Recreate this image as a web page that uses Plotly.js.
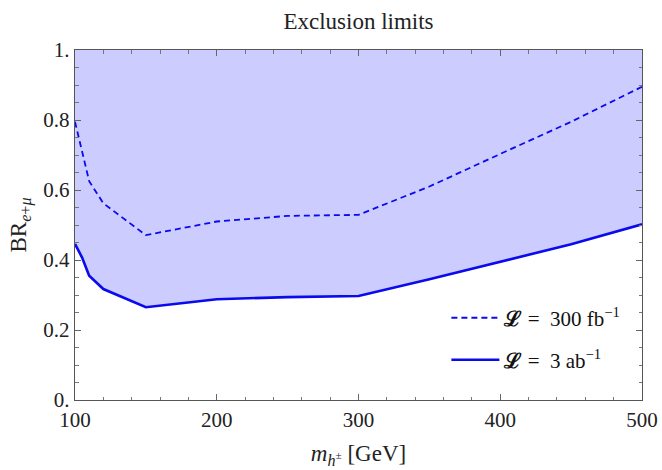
<!DOCTYPE html>
<html>
<head>
<meta charset="utf-8">
<script src="https://cdn.plot.ly/plotly-3.0.1.min.js"></script>
<style>html,body{margin:0;padding:0;background:#fff;}#chart{width:662px;height:470px;}</style>
</head>
<body>
<div id="chart"></div>
<script>
// Data
var massDashed = [100, 105, 110, 120, 150, 200, 250, 300, 350, 400, 450, 500];
var br300fb   = [0.795, 0.712, 0.625, 0.562, 0.471, 0.510, 0.526, 0.529, 0.610, 0.703, 0.795, 0.895];
var massSolid = [100, 105, 110, 120, 150, 200, 250, 300, 350, 400, 450, 500];
var br3ab     = [0.446, 0.407, 0.355, 0.317, 0.265, 0.288, 0.294, 0.297, 0.345, 0.395, 0.445, 0.502];
var topLimit  = [1, 1, 1, 1, 1, 1, 1, 1, 1, 1, 1, 1];
var yTickVals = [0, 0.2, 0.4, 0.6, 0.8, 1];
var yTickText = ["0.", "0.2", "0.4", "0.6", "0.8", "1."];
var xTickVals = [100, 200, 300, 400, 500];
var xTickText = ["100", "200", "300", "400", "500"];
var label300 = "<b>ℒ</b> =  300 fb<sup>−1</sup>";
var label3ab = "<b>ℒ</b> =  3 ab<sup>−1</sup>";

var font = "Liberation Serif, DejaVu Serif, serif";
var traces = [
  {x: massSolid, y: br3ab, mode: 'lines',
   line: {color: '#0a0aee', width: 2.6}, name: label3ab, legend: 'legend2'},
  {x: massSolid, y: topLimit, mode: 'lines', fill: 'tonexty', fillcolor: '#ccccfe',
   line: {width: 0, color: 'rgba(0,0,0,0)'}, showlegend: false, hoverinfo: 'skip'},
  {x: massDashed, y: br300fb, mode: 'lines',
   line: {color: '#0a0aee', width: 1.8, dash: '6px,4px'}, name: label300, legend: 'legend'}
];

var axisCommon = {
  showgrid: false, zeroline: false, showline: true, linecolor: '#555', linewidth: 1.3,
  mirror: 'ticks', ticks: 'inside', ticklen: 6, tickcolor: '#666', tickwidth: 1,
  tickfont: {family: font, size: 21, color: '#222'}
};

var legendCommon = {xanchor: 'left', yanchor: 'middle', bgcolor: 'rgba(0,0,0,0)',
                    itemwidth: 48, font: {family: font, size: 21, color: '#111'}};

var layout = {
  width: 662, height: 470,
  margin: {l: 75, r: 20, t: 50, b: 70},
  paper_bgcolor: '#fff', plot_bgcolor: '#fff',
  title: {text: 'Exclusion limits', x: 0.5415, xanchor: 'center', y: 0.955, yanchor: 'middle',
          font: {family: font, size: 23, color: '#222'}},
  xaxis: Object.assign({}, axisCommon, {
    range: [100, 500], tickvals: xTickVals, ticktext: xTickText,
    minor: {dtick: 20, tick0: 100, ticks: 'inside', ticklen: 3.5, tickcolor: '#777', showgrid: false},
    title: {text: '<i>m</i><sub><i>h</i><sup>±</sup></sub> [GeV]', standoff: 14,
            font: {family: font, size: 23, color: '#222'}}
  }),
  yaxis: Object.assign({}, axisCommon, {
    range: [0, 1], tickvals: yTickVals, ticktext: yTickText,
    minor: {dtick: 0.05, tick0: 0, ticks: 'inside', ticklen: 3.5, tickcolor: '#777', showgrid: false},
    title: {text: 'BR<sub><i>e</i>+<i>μ</i></sub>', standoff: 10,
            font: {family: font, size: 23, color: '#222'}}
  }),
  showlegend: true,
  legend: Object.assign({}, legendCommon, {x: 0.655, y: 0.234}),
  legend2: Object.assign({}, legendCommon, {x: 0.655, y: 0.114})
};

Plotly.newPlot('chart', traces, layout, {displayModeBar: false, staticPlot: true});
</script>
</body>
</html>
